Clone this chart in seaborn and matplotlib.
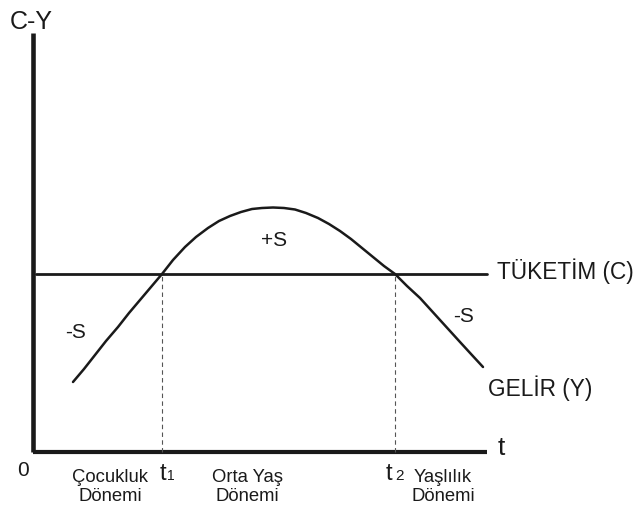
import matplotlib
matplotlib.use("Agg")
import matplotlib.pyplot as plt
import numpy as np
import pandas as pd
import seaborn as sns

# Life-cycle income curve (Y) against a flat consumption level (C)
period = [40, 51, 62, 73, 85, 96, 107, 118, 129, 140, 152, 163, 175, 186, 197,
          208, 219, 229, 240, 251, 262, 273, 285, 296, 307, 318, 329, 340, 351,
          362, 374, 387, 397, 407, 417, 427, 438, 450]
income = [70, 83, 97, 111, 125, 139, 152, 165, 178, 192, 205, 215, 224, 231,
          236, 240, 243, 244, 244.5, 244, 242.5, 239, 234, 228, 221, 213, 204,
          195, 186, 178, 166, 154, 143, 132, 121, 110, 98, 85]
consumption_level = 178
consumption_span = [3, 454]
t1, t2 = 129, 362
t_end = 454
cy_top = 419

period_labels = ["Çocukluk\nDönemi", "Orta Yaş\nDönemi", "Yaşlılık\nDönemi"]
period_label_x = [77, 214, 410]

sns.set_style("white")
plt.rcParams["font.family"] = ["Liberation Sans", "DejaVu Sans"]

fig = plt.figure(figsize=(6.33, 5.07), dpi=100)
ax = fig.add_axes([0, 0, 1, 1])
ax.set_xlim(-33, 600)
ax.set_ylim(-55, 452)
ax.axis("off")

ink = "#1a1a1a"

# axes of the diagram
ax.plot([0, 0], [0, cy_top], color=ink, lw=3.3, solid_capstyle="butt")
ax.plot([0, t_end], [0, 0], color=ink, lw=3.0, solid_capstyle="butt")

# consumption and income
cons = pd.DataFrame({"t": consumption_span, "C": [consumption_level] * 2})
sns.lineplot(data=cons, x="t", y="C", ax=ax, color=ink, lw=2.0, estimator=None)
inc = pd.DataFrame({"t": period, "Y": income})
sns.lineplot(data=inc, x="t", y="Y", ax=ax, color=ink, lw=1.8, estimator=None,
             sort=False)

# crossing points
for tx in (t1, t2):
    ax.plot([tx, tx], [0, consumption_level], color="#555555", lw=0.8,
            dashes=(4, 3))

ax.set_xlim(-33, 600)
ax.set_ylim(-55, 452)

ax.text(-1.5, 430, "C-Y", fontsize=18, color=ink, ha="center", va="center")
ax.text(-10, -18, "0", fontsize=15, color=ink, ha="center", va="center")
ax.text(468, 4, "t", fontsize=19, color=ink, ha="center", va="center")

# t1 and t2 with small subscripts
ax.text(t1 + 1, -28, "t", fontsize=17, color=ink, ha="center", va="baseline")
ax.text(t1 + 5, -28, "1", fontsize=10, color=ink, ha="left", va="baseline")
ax.text(t2 - 6, -28, "t", fontsize=17, color=ink, ha="center", va="baseline")
ax.text(t2 + 0, -28, "2", fontsize=11, color=ink, ha="left", va="baseline")

for lab, lx in zip(period_labels, period_label_x):
    ax.text(lx, -35, lab, fontsize=13.3, color=ink, ha="center",
            va="center", linespacing=1.12)

ax.text(241, 212, "+S", fontsize=15, color=ink, ha="center", va="center")
ax.text(43, 119, "-S", fontsize=15, color=ink, ha="center", va="center")
ax.text(431, 135, "-S", fontsize=15, color=ink, ha="center", va="center")
ax.text(464, 181, "TÜKETİM (C)", fontsize=16.3, color=ink, ha="left",
        va="center")
ax.text(455, 64, "GELİR (Y)", fontsize=16.3, color=ink, ha="left",
        va="center")

fig.savefig("out.png", dpi=100, facecolor="white")
